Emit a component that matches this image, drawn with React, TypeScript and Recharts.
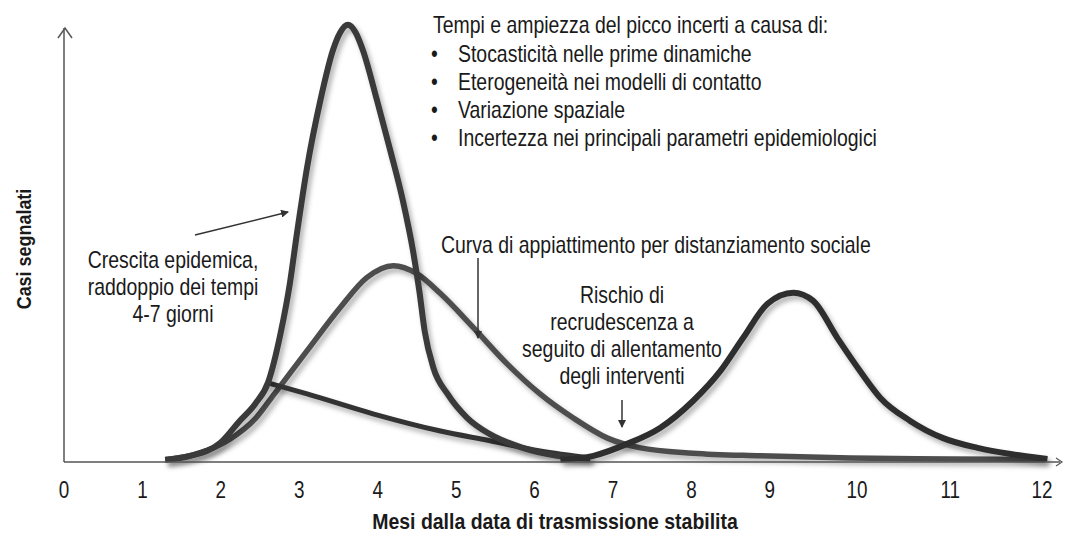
import React from 'react';
import { LineChart, Line, XAxis, YAxis, ReferenceLine } from 'recharts';

// tall unmitigated peak (months, relative cases)
const peakX = [1.29, 1.61, 1.99, 2.24, 2.44, 2.6, 2.76, 2.88, 2.97, 3.1, 3.27, 3.43, 3.52, 3.62, 3.72, 3.81, 3.99, 4.16, 4.32, 4.45, 4.53, 4.6, 4.71, 4.89, 5.14, 5.43, 5.85, 6.29, 6.71];
const peakV = [0.5, 1.4, 4.3, 9.3, 13.2, 17.9, 29.0, 40.4, 51.7, 66.7, 81.9, 93.2, 97.1, 98.9, 97.1, 93.2, 81.9, 70.5, 59.2, 47.8, 38.8, 29.5, 21.3, 15.4, 10.0, 6.3, 3.2, 1.4, 0.7];

// flattened curve (social distancing)
const flatX = [1.29, 1.73, 2.12, 2.44, 2.69, 3.1, 3.52, 3.86, 4.2, 4.5, 4.8, 5.22, 5.65, 6.07, 6.49, 6.93, 7.35, 8.02, 8.88, 10.03, 11.3, 12.51];
const flatV = [0.5, 2.0, 5.2, 9.8, 15.6, 25.2, 34.9, 41.7, 44.4, 42.6, 38.1, 30.4, 22.2, 15.4, 10.0, 5.4, 3.2, 2.0, 1.4, 0.9, 0.7, 0.5];

// early containment branch
const earlyX = [2.6, 3.1, 3.94, 4.8, 5.43, 6.07, 6.71];
const earlyV = [17.9, 15.4, 10.9, 7.0, 4.8, 2.5, 0.9];

// second wave
const waveX = [6.33, 6.75, 7.18, 7.6, 8.02, 8.37, 8.66, 8.97, 9.3, 9.55, 9.86, 10.15, 10.41, 10.79, 11.21, 11.65, 12.07, 12.54];
const waveV = [0.5, 1.4, 4.1, 7.7, 13.8, 20.6, 28.1, 35.8, 38.3, 36.5, 28.1, 20.6, 14.5, 9.3, 5.4, 3.2, 1.8, 0.7];

const xTickPos = [0, 1, 2, 3, 4, 5, 6, 7, 8, 9, 10.11, 11.3, 12.47];
const xTickLabels = ['0', '1', '2', '3', '4', '5', '6', '7', '8', '9', '10', '11', '12'];

const causes = [
  'Stocasticità nelle prime dinamiche',
  'Eterogeneità nei modelli di contatto',
  'Variazione spaziale',
  'Incertezza nei principali parametri epidemiologici',
];

const toRows = (xs: number[], vs: number[]) => xs.map((x, i) => ({ x, v: vs[i] }));

const FONT = '"Liberation Sans", Arial, sans-serif';
const NARROW = 0.845;

// narrow-looking text: regular sans squeezed horizontally
const NText = ({ x, y, children, anchor = 'start', size = 23, bold = false, sx = NARROW }: any) => (
  <g transform={`translate(${x},${y}) scale(${sx},1)`}>
    <text x={0} y={0} textAnchor={anchor} fontFamily={FONT} fontSize={size} fontWeight={bold ? 'bold' : 'normal'} fill="#1a1a1a">
      {children}
    </text>
  </g>
);

const XTick = ({ x, y, index }: any) => (
  <g transform={`translate(${x},${y}) scale(0.82,1)`}>
    <text x={0} y={0} dy={28} textAnchor="middle" fontFamily={FONT} fontSize={23} fill="#1a1a1a">
      {xTickLabels[index]}
    </text>
  </g>
);

export default function App() {
  return (
    <div style={{ position: 'relative', width: 1065, height: 542, background: '#fff', fontFamily: FONT }}>
      <style>{`body{margin:0} .recharts-line-curve{filter:drop-shadow(3px 4px 2.5px rgba(0,0,0,0.3));}`}</style>
      <LineChart width={1065} height={542} margin={{ top: 20, right: 5, bottom: 50, left: 64 }}>
        <XAxis
          type="number"
          dataKey="x"
          domain={[0, 12.7]}
          ticks={xTickPos}
          interval={0}
          height={30}
          tickLine={false}
          axisLine={{ stroke: '#555', strokeWidth: 1.5 }}
          tick={<XTick />}
        />
        <YAxis type="number" dataKey="v" domain={[0, 100]} hide />
        <ReferenceLine segment={[{ x: 0, y: 0 }, { x: 0, y: 98.2 }]} stroke="#555" strokeWidth={1.5} />
        <Line data={toRows(flatX, flatV)} dataKey="v" type="monotone" stroke="#4d4d4d" strokeWidth={5.5} dot={false} isAnimationActive={false} />
        <Line data={toRows(earlyX, earlyV)} dataKey="v" type="monotone" stroke="#333" strokeWidth={5} dot={false} isAnimationActive={false} />
        <Line data={toRows(peakX, peakV)} dataKey="v" type="monotone" stroke="#3a3a3a" strokeWidth={6} dot={false} isAnimationActive={false} />
        <Line data={toRows(waveX, waveV)} dataKey="v" type="monotone" stroke="#2e2e2e" strokeWidth={6} dot={false} isAnimationActive={false} />
      </LineChart>

      <svg width={1065} height={542} style={{ position: 'absolute', left: 0, top: 0, pointerEvents: 'none' }}>
        <defs>
          <marker id="ah" markerWidth="8" markerHeight="8" refX="7" refY="4" orient="auto" markerUnits="userSpaceOnUse">
            <path d="M0,0 L8,4 L0,8 z" fill="#333" />
          </marker>
        </defs>
        {/* axis arrowheads */}
        <polyline points="58,38 65,28 72,38" fill="none" stroke="#555" strokeWidth={1.5} />
        <polyline points="1056,458 1062,462 1056,466" fill="none" stroke="#555" strokeWidth={1.2} />

        {/* annotation arrows */}
        <line x1={195} y1={235} x2={288} y2={212} stroke="#333" strokeWidth={1.5} markerEnd="url(#ah)" />
        <line x1={478} y1={258} x2={478} y2={338} stroke="#333" strokeWidth={1.5} markerEnd="url(#ah)" />
        <line x1={622} y1={400} x2={622} y2={427} stroke="#333" strokeWidth={1.5} markerEnd="url(#ah)" />

        <NText x={433} y={33}>Tempi e ampiezza del picco incerti a causa di:</NText>
        {causes.map((c, i) => (
          <g key={c}>
            <NText x={431} y={62 + i * 28}>•</NText>
            <NText x={458} y={62 + i * 28}>{c}</NText>
          </g>
        ))}

        <NText x={173} y={268} anchor="middle">Crescita epidemica,</NText>
        <NText x={173} y={295} anchor="middle">raddoppio dei tempi</NText>
        <NText x={173} y={322} anchor="middle">4-7 giorni</NText>

        <NText x={441} y={253}>Curva di appiattimento per distanziamento sociale</NText>

        <NText x={622} y={303} anchor="middle">Rischio di</NText>
        <NText x={622} y={330} anchor="middle">recrudescenza a</NText>
        <NText x={622} y={357} anchor="middle">seguito di allentamento</NText>
        <NText x={622} y={384} anchor="middle">degli interventi</NText>

        <NText x={555} y={529} anchor="middle" size={22} bold sx={0.885}>Mesi dalla data di trasmissione stabilita</NText>
        <g transform="translate(31,249) rotate(-90)">
          <NText x={0} y={0} anchor="middle" size={21} bold sx={0.855}>Casi segnalati</NText>
        </g>
      </svg>
    </div>
  );
}
